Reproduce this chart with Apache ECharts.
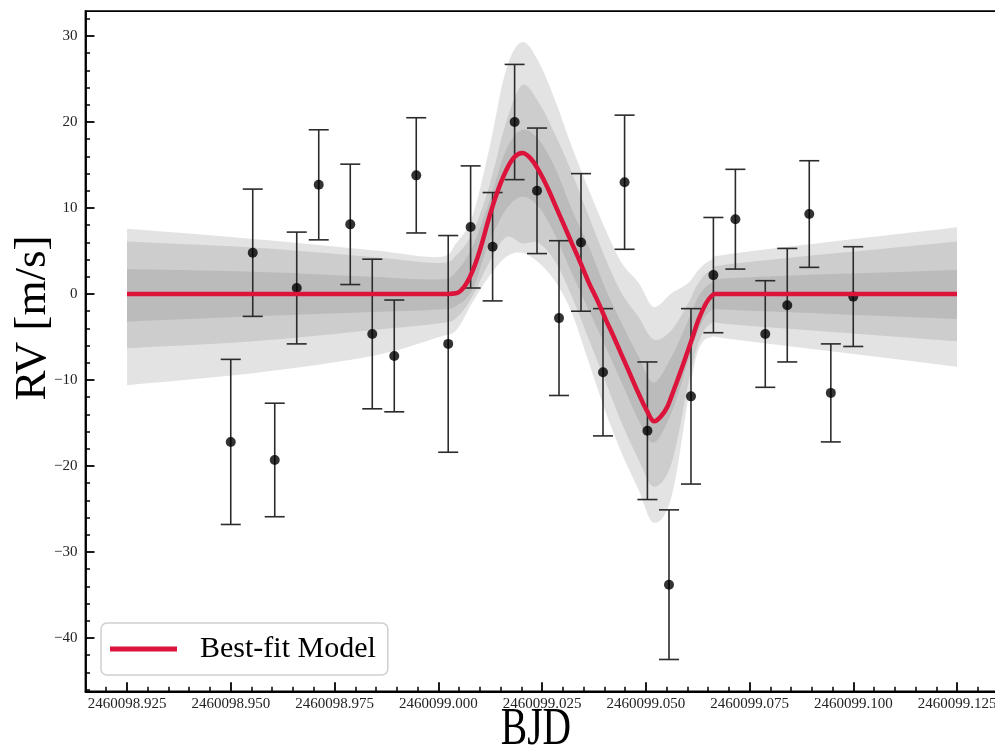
<!DOCTYPE html>
<html>
<head>
<meta charset="utf-8">
<script src="https://cdn.jsdelivr.net/npm/echarts@6/dist/echarts.min.js"></script>
<style>html,body{margin:0;padding:0;background:#fff}#c{width:995px;height:746px}</style>
</head>
<body>
<div id="c"></div>
<script>
// ---- tick labels ----
const bjdMajor = [2460098.925, 2460098.950, 2460098.975, 2460099.000, 2460099.025, 2460099.050, 2460099.075, 2460099.100, 2460099.125];
const bjdMinor = [2460098.915, 2460098.920, 2460098.930, 2460098.935, 2460098.940, 2460098.945, 2460098.955, 2460098.960, 2460098.965, 2460098.970,
  2460098.980, 2460098.985, 2460098.990, 2460098.995, 2460099.005, 2460099.010, 2460099.015, 2460099.020, 2460099.030, 2460099.035,
  2460099.040, 2460099.045, 2460099.055, 2460099.060, 2460099.065, 2460099.070, 2460099.080, 2460099.085, 2460099.090, 2460099.095,
  2460099.105, 2460099.110, 2460099.115, 2460099.120, 2460099.130, 2460099.135];
const rvMajor = [-40, -30, -20, -10, 0, 10, 20, 30];
const rvMinor = [-46, -44, -42, -38, -36, -34, -32, -28, -26, -24, -22, -18, -16, -14, -12, -8, -6, -4, -2,
  2, 4, 6, 8, 12, 14, 16, 18, 22, 24, 26, 28, 32];

// ---- observations ----
const obsBJD = [2460098.9500, 2460098.9553, 2460098.9606, 2460098.9659, 2460098.9712, 2460098.9788, 2460098.9841, 2460098.9894,
  2460098.9947, 2460099.0024, 2460099.0078, 2460099.0131, 2460099.0184, 2460099.0238, 2460099.0291, 2460099.0344, 2460099.0397,
  2460099.0449, 2460099.0504, 2460099.0556, 2460099.0609, 2460099.0663, 2460099.0716, 2460099.0788, 2460099.0841, 2460099.0894,
  2460099.0946, 2460099.1000];
const obsRV = [-17.2, 4.8, -19.3, 0.7, 12.7, 8.1, -4.65, -7.2, 13.8, -5.8, 7.8, 5.5, 20.0, 12.0, -2.8, 6.0, -9.1, 13.0,
  -15.9, -33.8, -11.9, 2.2, 8.7, -4.65, -1.3, 9.3, -11.5, -0.3];
const obsErr = [9.6, 7.4, 6.6, 6.5, 6.4, 7.0, 8.7, 6.5, 6.7, 12.6, 7.1, 6.3, 6.7, 7.3, 9.0, 8.0, 7.4, 7.8, 8.0, 8.7,
  10.2, 6.7, 5.8, 6.2, 6.6, 6.2, 5.7, 5.8];

// ---- best-fit model ----
const modelBJD = [2460098.925, 2460099.0002, 2460099.0043, 2460099.0062, 2460099.0082, 2460099.0101, 2460099.0122, 2460099.0142,
  2460099.0163, 2460099.0183, 2460099.0202, 2460099.0222, 2460099.0243, 2460099.0264, 2460099.0284, 2460099.0303, 2460099.0322,
  2460099.0343, 2460099.0363, 2460099.0384, 2460099.0404, 2460099.0423, 2460099.0442, 2460099.0463, 2460099.0483, 2460099.0503,
  2460099.0521, 2460099.0537, 2460099.0550, 2460099.0562, 2460099.0575, 2460099.0587, 2460099.0603, 2460099.0615, 2460099.0627,
  2460099.0645, 2460099.0659, 2460099.0668, 2460099.125];
const modelRV = [0, 0, 0.1, 0.8, 2.6, 5.2, 8.8, 11.8,
  14.3, 15.9, 16.4, 15.8, 14.3, 12.3, 10.1, 8.0, 5.9,
  3.6, 1.3, -0.8, -3.0, -5.0, -7.1, -9.4, -11.6, -13.6,
  -14.8, -14.2, -13.3, -11.9, -10.2, -8.6, -6.4, -4.7, -3.0,
  -1.1, -0.2, 0, 0];

// ---- credible bands ----
const bandBJD = [2460098.925, 2460098.9553, 2460098.9841, 2460099.0002, 2460099.0043, 2460099.0082, 2460099.0122, 2460099.0163,
  2460099.0202, 2460099.0243, 2460099.0284, 2460099.0322, 2460099.0363, 2460099.0404, 2460099.0442, 2460099.0483, 2460099.0519,
  2460099.0562, 2460099.0603, 2460099.0627, 2460099.0659, 2460099.0724, 2460099.125];
const lightLo = [-10.6, -9.2, -7.2, -5.0, -4.2, -1.0, 2.0, 4.3, 4.8, 3.6, 1.3, -2.2, -8.0, -13.8, -18.5, -22.8, -26.6, -23.6, -12.0, -6.5, -5.0, -5.35, -8.45];
const medLo   = [-6.3, -5.5, -4.2, -3.4, -2.8, -0.3, 3.6, 6.6, 5.9, 5.9, 3.6, -0.3, -5.3, -10.3, -15.0, -19.3, -22.4, -19.7, -10.3, -5.7, -3.4, -3.6, -5.5];
const darkLo  = [-3.2, -2.6, -2.1, -1.8, -1.4, 0.5, 5.9, 9.8, 11.3, 10.1, 6.6, 2.4, -1.9, -6.2, -10.3, -14.7, -17.3, -13.8, -7.7, -4.2, -1.9, -1.9, -2.9];
const darkHi  = [2.9, 2.6, 2.0, 1.7, 2.6, 5.5, 10.6, 16.7, 19.1, 17.9, 14.4, 9.8, 5.5, 0.5, -3.4, -7.3, -10.3, -7.3, -3.0, -0.3, 1.3, 1.9, 2.8];
const medHi   = [6.1, 5.4, 4.3, 3.6, 4.5, 7.1, 12.4, 19.9, 24.3, 22.2, 18.3, 14.1, 9.0, 4.0, 0.1, -2.7, -5.3, -4.2, -1.0, 1.3, 2.8, 3.6, 6.1];
const lightHi = [7.6, 6.4, 5.1, 4.3, 5.9, 9.0, 16.7, 26.0, 29.3, 26.9, 22.2, 17.1, 12.1, 7.4, 3.6, 1.3, -1.5, 0.1, 1.3, 2.8, 4.0, 4.8, 7.75];

const FONT = '"Liberation Serif", "DejaVu Serif", serif';
const BAND_COLORS = ['#e3e3e3', '#cdcdcd', '#bbbbbb'];
const BANDS = [[lightLo, lightHi], [medLo, medHi], [darkLo, darkHi]];
const RED = '#dc143c';

const pairs = (xs, ys) => xs.map((x, i) => [x, ys[i]]);

// Catmull-Rom smoothing of an edge in pixel space (rendering only)
function smoothEdge(p, seg) {
  const out = [];
  const n = p.length;
  for (let i = 0; i < n - 1; i++) {
    const p0 = p[Math.max(i - 1, 0)], p1 = p[i], p2 = p[i + 1], p3 = p[Math.min(i + 2, n - 1)];
    for (let s = 0; s < seg; s++) {
      const t = s / seg, t2 = t * t, t3 = t2 * t;
      const f = (a, b, c, d) => 0.5 * ((2 * b) + (-a + c) * t + (2 * a - 5 * b + 4 * c - d) * t2 + (-a + 3 * b - 3 * c + d) * t3);
      out.push([f(p0[0], p1[0], p2[0], p3[0]), f(p0[1], p1[1], p2[1], p3[1])]);
    }
  }
  out.push(p[n - 1]);
  return out;
}

const chart = echarts.init(document.getElementById('c'), null, { renderer: 'canvas' });
chart.setOption({
  animation: false,
  backgroundColor: '#fff',
  grid: { left: 85.5, top: 11.1, width: 913, height: 680.2, show: true, borderColor: '#000', borderWidth: 1.8,
    backgroundColor: 'transparent', containLabel: false, outerBoundsMode: 'none' },
  xAxis: [{
    type: 'value', min: 2460098.915, max: 2460099.135, position: 'bottom',
    axisLine: { show: true, onZero: false, lineStyle: { color: '#000', width: 1.8 } },
    axisTick: { show: true, inside: true, length: 9, customValues: bjdMajor, lineStyle: { color: '#000', width: 1.8 } },
    axisLabel: { show: true, customValues: bjdMajor, margin: 5, fontFamily: FONT, fontSize: 15, color: '#222',
      hideOverlap: false, formatter: v => v.toFixed(3) },
    splitLine: { show: false }
  }, {
    type: 'value', min: 2460098.915, max: 2460099.135, position: 'bottom', offset: 0,
    axisLine: { show: false, onZero: false },
    axisTick: { show: true, inside: true, length: 4.5, customValues: bjdMinor, lineStyle: { color: '#000', width: 1.5 } },
    axisLabel: { show: false }, splitLine: { show: false }
  }],
  yAxis: [{
    type: 'value', min: -46.2, max: 32.9, position: 'left',
    axisLine: { show: true, onZero: false, lineStyle: { color: '#000', width: 1.8 } },
    axisTick: { show: true, inside: true, length: 9, customValues: rvMajor, lineStyle: { color: '#000', width: 1.8 } },
    axisLabel: { show: true, customValues: rvMajor, margin: 8, fontFamily: FONT, fontSize: 15, color: '#222',
      formatter: v => (v < 0 ? '\u2212' + Math.abs(v) : String(v)) },
    splitLine: { show: false }
  }, {
    type: 'value', min: -46.2, max: 32.9, position: 'left', offset: 0,
    axisLine: { show: false, onZero: false },
    axisTick: { show: true, inside: true, length: 4.5, customValues: rvMinor, lineStyle: { color: '#000', width: 1.5 } },
    axisLabel: { show: false }, splitLine: { show: false }
  }],
  legend: {
    data: ['Best-fit Model'], left: 101, top: 623, orient: 'horizontal',
    padding: [11, 12, 11, 9], itemWidth: 67, itemHeight: 5, icon: 'rect',
    backgroundColor: '#fff', borderColor: '#cfcfcf', borderWidth: 1.5, borderRadius: 6,
    textStyle: { fontFamily: FONT, fontSize: 30, color: '#000', padding: [0, 0, 0, 18] },
    itemStyle: { color: RED }
  },
  graphic: [{
    type: 'text', x: 33, y: 318, rotation: Math.PI / 2, z: 10,
    style: { text: 'RV [m/s]', font: '45px ' + FONT, fill: '#000', textAlign: 'center', textVerticalAlign: 'middle' }
  }, {
    type: 'text', x: 536, y: 730, scaleX: 0.76, z: 10,
    style: { text: 'BJD', font: '52px ' + FONT, fill: '#000', textAlign: 'center', textVerticalAlign: 'middle' }
  }],
  series: [
    {
      type: 'custom', name: 'bands', z: 1, silent: true,
      data: [[0], [1], [2]],
      renderItem: function (params, api) {
        const lvl = api.value(0);
        const lo = BANDS[lvl][0], hi = BANDS[lvl][1];
        const up = bandBJD.map((x, i) => api.coord([x, hi[i]]));
        const dn = bandBJD.map((x, i) => api.coord([x, lo[i]]));
        const pts = smoothEdge(up, 8).concat(smoothEdge(dn, 8).reverse());
        return { type: 'polygon', shape: { points: pts }, style: { fill: BAND_COLORS[lvl], stroke: null } };
      }
    },
    {
      type: 'custom', name: 'errors', z: 3, silent: true,
      data: obsBJD.map((x, i) => [x, obsRV[i], obsErr[i]]),
      encode: { x: 0, y: 1 },
      renderItem: function (params, api) {
        const x = api.value(0), y = api.value(1), e = api.value(2);
        const t = api.coord([x, y + e]), b = api.coord([x, y - e]);
        const hw = 10;
        const st = { stroke: '#2b2b2b', lineWidth: 1.6 };
        return { type: 'group', children: [
          { type: 'line', shape: { x1: t[0], y1: t[1], x2: b[0], y2: b[1] }, style: st },
          { type: 'line', shape: { x1: t[0] - hw, y1: t[1], x2: t[0] + hw, y2: t[1] }, style: st },
          { type: 'line', shape: { x1: b[0] - hw, y1: b[1], x2: b[0] + hw, y2: b[1] }, style: st }
        ] };
      }
    },
    {
      type: 'scatter', name: 'obs', z: 4, symbolSize: 10, silent: true,
      data: pairs(obsBJD, obsRV), itemStyle: { color: '#000' }
    },
    {
      type: 'line', name: 'Best-fit Model', z: 5, smooth: 0.4, symbol: 'none',
      data: pairs(modelBJD, modelRV),
      lineStyle: { color: RED, width: 4.5 }, itemStyle: { color: RED }
    }
  ]
});
</script>
</body>
</html>
